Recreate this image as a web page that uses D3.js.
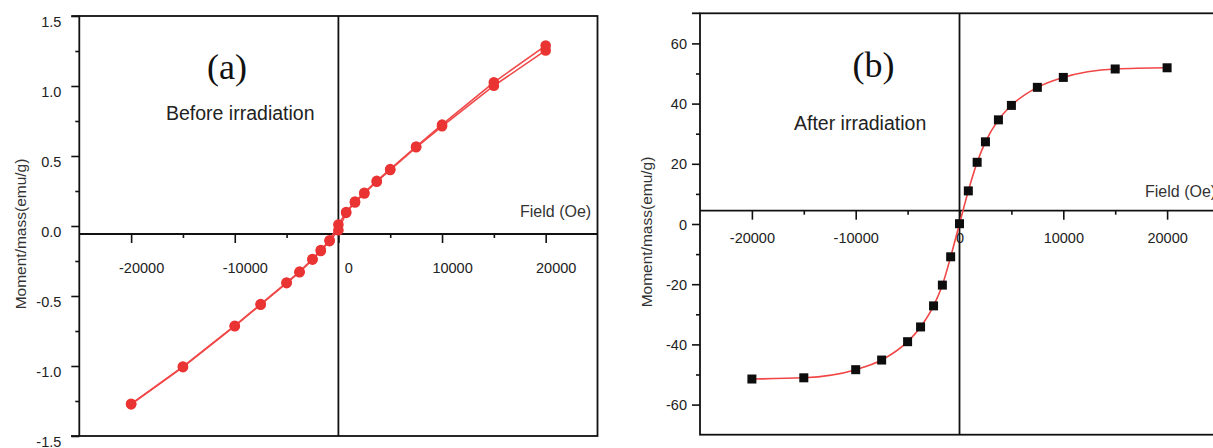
<!DOCTYPE html>
<html>
<head>
<meta charset="utf-8">
<script src="https://cdn.jsdelivr.net/npm/d3@7/dist/d3.min.js"></script>
<style>
  html, body { margin: 0; padding: 0; background: #fff; overflow: hidden; }
  svg { display: block; font-family: "Liberation Sans", Arial, Helvetica, sans-serif; }
</style>
</head>
<body>
<svg id="chart" width="1213" height="448"></svg>
<script>
// ---------- Data ----------
// Panel (a): before irradiation (two branches of the loop)
const fieldA = [-20000, -15000, -10000, -7500, -5000, -3750, -2500, -1700, -850, 0, 750, 1600, 2500, 3700, 5000, 7500, 10000, 15000, 20000];
const momentA_up = [-1.274, -1.008, -0.716, -0.562, -0.408, -0.330, -0.240, -0.178, -0.108, -0.030, 0.094, 0.168, 0.233, 0.316, 0.400, 0.562, 0.712, 1.002, 1.254];
const momentA_down = [-1.270, -1.004, -0.712, -0.558, -0.404, -0.326, -0.236, -0.172, -0.102, 0.010, 0.100, 0.175, 0.238, 0.322, 0.406, 0.567, 0.724, 1.026, 1.289];

// Panel (b): after irradiation
const fieldB = [-20000, -15000, -10000, -7500, -5000, -3750, -2500, -1650, -850, 0, 850, 1700, 2500, 3750, 5000, 7500, 10000, 15000, 20000];
const momentB = [-51.5, -51.1, -48.4, -45.2, -39.1, -34.2, -27.2, -20.3, -10.9, 0.1, 11.0, 20.5, 27.3, 34.6, 39.4, 45.4, 48.7, 51.5, 51.9];

// Tick values
const xTicks = [-20000, -10000, 0, 10000, 20000];
const xMinorTicks = [-15000, -5000, 5000, 15000];
const yTicksA = [1.5, 1.0, 0.5, 0.0, -0.5, -1.0, -1.5];
const yMinorTicksA = [1.25, 0.75, 0.25, -0.25, -0.75, -1.25];
const yTicksB = [60, 40, 20, 0, -20, -40, -60];
const yMinorTicksB = [50, 30, 10, -10, -30, -50];

// Texts
const yTitle = "Moment/mass(emu/g)";
const xTitle = "Field (Oe)";
const labelA = "(a)", labelB = "(b)";
const noteA = "Before irradiation", noteB = "After irradiation";

// ---------- Drawing ----------
const svg = d3.select("#chart");
const tickColor = "#222";
const lineW = 1.8;
const SANS = '"Liberation Sans", Arial, Helvetica, sans-serif';
const SERIF = '"Liberation Serif", "Times New Roman", Times, serif';

function panel(cfg) {
  const g = svg.append("g");
  const x = d3.scaleLinear().domain([-25000, 25000]).range([cfg.x0, cfg.x1]);
  const y = d3.scaleLinear().domain(cfg.yDomain).range([cfg.y1, cfg.y0]);

  // y axis (major)
  const yAx = g.append("g").attr("transform", `translate(${cfg.x0},0)`)
    .call(d3.axisLeft(y).tickValues(cfg.yTicks).tickSize(8).tickSizeOuter(0)
      .tickPadding(cfg.yPad).tickFormat(cfg.yFmt));
  yAx.select(".domain").remove();
  yAx.selectAll(".tick line").attr("stroke", "#111").attr("stroke-width", 1.6);
  yAx.selectAll(".tick text").style("font-size", "14.5px").style("font-family", SANS)
    .attr("fill", tickColor).attr("dy", cfg.yDy);
  // y minor
  const yMin = g.append("g").attr("transform", `translate(${cfg.x0},0)`)
    .call(d3.axisLeft(y).tickValues(cfg.yMinor).tickSize(4).tickSizeOuter(0).tickFormat(""));
  yMin.select(".domain").remove();
  yMin.selectAll(".tick line").attr("stroke", "#111").attr("stroke-width", 1.6);

  // crossing x axis
  const yAxisPos = y(cfg.xAxisAt);
  const xAx = g.append("g").attr("transform", `translate(0,${yAxisPos})`)
    .call(d3.axisBottom(x).tickValues(xTicks).tickSize(9).tickSizeOuter(0).tickFormat(d => String(d)));
  xAx.select(".domain").remove();
  xAx.selectAll(".tick line").attr("stroke", "#111").attr("stroke-width", 1.6);
  xAx.selectAll(".tick text").style("font-size", "14.5px").style("font-family", SANS)
    .attr("fill", tickColor)
    .attr("y", cfg.xLabOff).attr("dy", "0.35em").attr("x", cfg.xLabShift);
  const xMin = g.append("g").attr("transform", `translate(0,${yAxisPos})`)
    .call(d3.axisBottom(x).tickValues(xMinorTicks).tickSize(4).tickSizeOuter(0).tickFormat(""));
  xMin.select(".domain").remove();
  xMin.selectAll(".tick line").attr("stroke", "#111").attr("stroke-width", 1.6);

  // frame
  g.append("rect").attr("x", cfg.x0).attr("y", cfg.y0)
    .attr("width", cfg.x1 - cfg.x0).attr("height", cfg.y1 - cfg.y0)
    .attr("fill", "none").attr("stroke", "#111").attr("stroke-width", lineW);
  g.append("line").attr("x1", cfg.x0 - 8).attr("x2", cfg.x0).attr("y1", cfg.y0).attr("y2", cfg.y0)
    .attr("stroke", "#111").attr("stroke-width", lineW);
  // cross lines
  g.append("line").attr("x1", cfg.x0).attr("x2", cfg.x1).attr("y1", yAxisPos).attr("y2", yAxisPos)
    .attr("stroke", "#111").attr("stroke-width", lineW);
  g.append("line").attr("x1", x(0)).attr("x2", x(0)).attr("y1", cfg.y0).attr("y2", cfg.y1)
    .attr("stroke", "#111").attr("stroke-width", lineW);

  // texts
  g.append("text").attr("transform", `translate(${cfg.yTitleX},${cfg.yTitleY}) rotate(-90)`)
    .attr("text-anchor", "middle").attr("dy", "0.35em")
    .style("font-family", SANS).style("font-size", "15.5px").attr("fill", "#333").text(yTitle);
  g.append("text").attr("x", cfg.fieldX).attr("y", cfg.fieldY)
    .style("font-family", SANS).style("font-size", "16px").attr("fill", "#333").text(xTitle);
  g.append("text").attr("x", cfg.labX).attr("y", cfg.labY).attr("text-anchor", "middle")
    .style("font-family", SERIF).style("font-size", "36px").attr("fill", "#111").text(cfg.label);
  g.append("text").attr("x", cfg.noteX).attr("y", cfg.noteY)
    .style("font-family", SANS).style("font-size", "19.5px").attr("fill", "#222").text(cfg.note);

  return { g, x, y };
}

// Panel (a)
const A = panel({
  x0: 79.3, x1: 597.5, y0: 16, y1: 436, yDomain: [-1.5, 1.5],
  yTicks: yTicksA, yMinor: yMinorTicksA, yFmt: d => d.toFixed(1), yPad: 10, yDy: "0.72em",
  xAxisAt: -0.057, xLabOff: 34, xLabShift: 10,
  yTitleX: 21, yTitleY: 234, fieldX: 520, fieldY: 217,
  labX: 227, labY: 79, label: labelA, noteX: 166, noteY: 120, note: noteA
});
A.g.append("line").attr("x1", 71).attr("x2", 79.3).attr("y1", 436).attr("y2", 436)
  .attr("stroke", "#111").attr("stroke-width", lineW);

const lineA = d3.line().x((d, i) => A.x(fieldA[i])).y(d => A.y(d));
[momentA_up, momentA_down].forEach(ser => {
  A.g.append("path").datum(ser).attr("d", lineA).attr("fill", "none")
    .attr("stroke", "#f04848").attr("stroke-width", 1.6);
});
[momentA_up, momentA_down].forEach(ser => {
  A.g.selectAll(null).data(ser).enter().append("circle")
    .attr("cx", (d, i) => A.x(fieldA[i])).attr("cy", d => A.y(d))
    .attr("r", 5.3).attr("fill", "#ea3333");
});

// Panel (b)
const B = panel({
  x0: 700, x1: 1219, y0: 13.3, y1: 434.7, yDomain: [-70, 70],
  yTicks: yTicksB, yMinor: yMinorTicksB, yFmt: d => String(d), yPad: 5, yDy: "0.35em",
  xAxisAt: 4.42, xLabOff: 27, xLabShift: 0,
  yTitleX: 647, yTitleY: 232, fieldX: 1145, fieldY: 196.5,
  labX: 873.5, labY: 77, label: labelB, noteX: 794, noteY: 130, note: noteB
});

const lineB = d3.line().curve(d3.curveMonotoneX)
  .x((d, i) => B.x(fieldB[i])).y(d => B.y(d));
B.g.append("path").datum(momentB).attr("d", lineB).attr("fill", "none")
  .attr("stroke", "#f04646").attr("stroke-width", 1.6);
B.g.selectAll(null).data(momentB).enter().append("rect")
  .attr("x", (d, i) => B.x(fieldB[i]) - 4.5).attr("y", d => B.y(d) - 4.5)
  .attr("width", 9).attr("height", 9).attr("fill", "#0d0d0d");
</script>
</body>
</html>
